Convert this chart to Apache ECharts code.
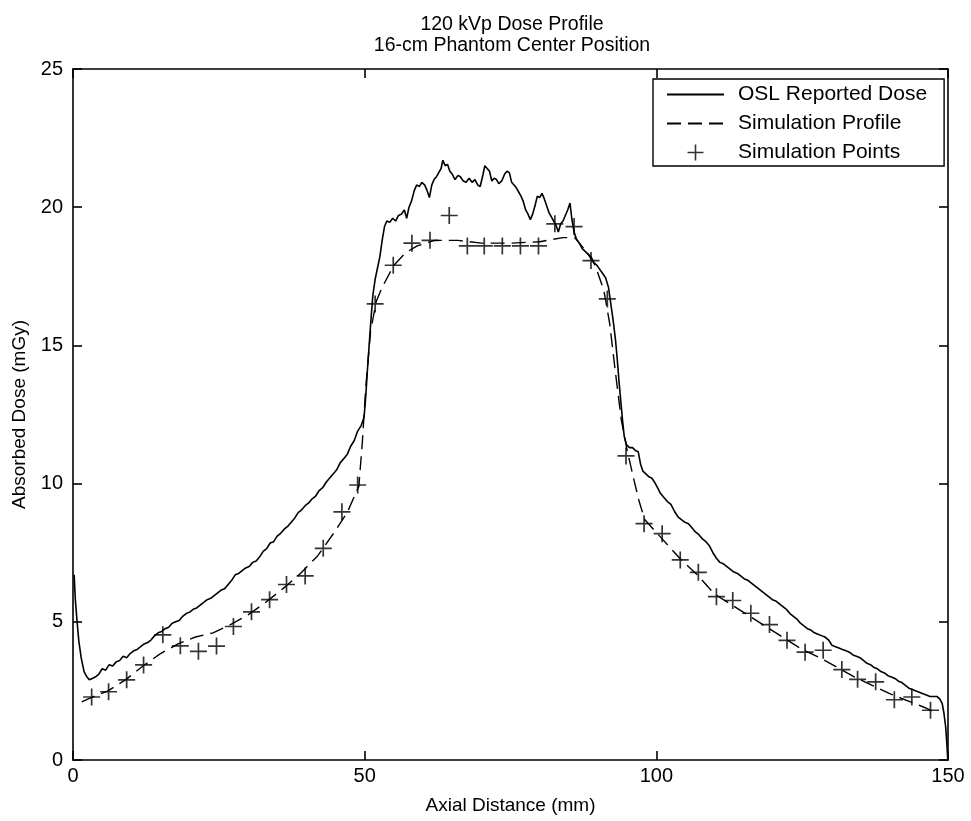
<!DOCTYPE html>
<html>
<head>
<meta charset="utf-8">
<script src="https://cdn.jsdelivr.net/npm/echarts@6/dist/echarts.min.js"></script>
<style>
    html, body { margin: 0; padding: 0; background: #fff; }
    #dose-chart { width: 971px; height: 821px; }
</style>
</head>
<body>
<div id="dose-chart"></div>
<script>
    // OSL measured dose along the phantom (mm, mGy)
    var oslDistance = [0.2, 0.4, 0.7, 1.0, 1.4, 1.9, 2.4, 2.8, 3.3, 3.8, 4.4, 5.0, 5.6, 6.2, 6.8, 7.4, 8.0, 8.6, 9.2, 9.8,
        10.4, 11.0, 11.6, 12.2, 12.8, 13.4, 14.0, 14.6, 15.2, 15.8, 16.4, 17.0, 17.6, 18.2, 18.8, 19.4, 20.0, 20.6, 21.2, 21.8,
        22.4, 23.0, 23.6, 24.2, 24.8, 25.4, 26.0, 26.6, 27.2, 27.8, 28.4, 29.0, 29.6, 30.2, 30.8, 31.4, 32.0, 32.6, 33.2, 33.8,
        34.4, 35.0, 35.6, 36.2, 36.8, 37.4, 38.0, 38.6, 39.2, 39.8, 40.4, 41.0, 41.6, 42.2, 42.8, 43.4, 44.0, 44.6, 45.2, 45.8,
        46.4, 47.0, 47.6, 48.2, 48.8, 49.4, 49.9, 50.2, 50.5, 50.8, 51.1, 51.4, 51.8, 52.2, 52.6, 53.0, 53.4, 53.8, 54.3, 54.8,
        55.3, 55.8, 56.3, 56.8, 57.2, 57.6, 58.0, 58.5, 58.9, 59.4, 59.8, 60.3, 60.7, 61.1, 61.5, 61.9, 62.3, 62.7, 63.1, 63.4,
        63.8, 64.2, 64.6, 65.0, 65.5, 66.0, 66.4, 66.9, 67.4, 67.9, 68.4, 68.9, 69.4, 69.8, 70.2, 70.6, 71.0, 71.4, 71.8, 72.2,
        72.6, 73.0, 73.5, 74.0, 74.4, 74.8, 75.2, 75.6, 76.0, 76.4, 76.8, 77.2, 77.6, 78.0, 78.4, 78.8, 79.2, 79.6, 80.0, 80.4,
        80.8, 81.2, 81.6, 82.0, 82.4, 82.8, 83.2, 83.6, 84.0, 84.4, 84.8, 85.2, 85.5, 85.9, 86.3, 86.8, 87.3, 87.8, 88.3, 88.8,
        89.3, 89.8, 90.3, 90.8, 91.3, 91.8, 92.2, 92.6, 93.0, 93.3, 93.6, 93.9, 94.2, 94.5, 94.9, 95.4, 95.9, 96.4, 96.9, 97.3,
        97.7, 98.2, 98.7, 99.2, 99.7, 100.2, 100.7, 101.3, 101.9, 102.5, 103.1, 103.7, 104.3, 104.9, 105.5, 106.1, 106.7, 107.3, 107.9, 108.5,
        109.1, 109.7, 110.3, 110.9, 111.5, 112.1, 112.7, 113.3, 113.9, 114.5, 115.1, 115.7, 116.3, 116.9, 117.5, 118.1, 118.7, 119.3, 119.9, 120.5,
        121.1, 121.7, 122.3, 122.9, 123.5, 124.1, 124.7, 125.3, 125.9, 126.5, 127.1, 127.7, 128.3, 128.9, 129.5, 130.1, 130.7, 131.3, 131.9, 132.5,
        133.1, 133.7, 134.3, 134.9, 135.5, 136.1, 136.7, 137.3, 137.9, 138.5, 139.1, 139.7, 140.3, 140.9, 141.5, 142.1, 142.7, 143.3, 143.9, 144.5,
        145.1, 145.7, 146.3, 146.9, 147.5, 148.1, 148.6, 149.0, 149.3, 149.6, 149.8, 149.95];
    var oslDose = [6.7, 5.8, 5.0, 4.3, 3.7, 3.2, 3.0, 2.9, 2.95, 3.0, 3.1, 3.3, 3.25, 3.45, 3.4, 3.55, 3.6, 3.75, 3.7, 3.85,
        3.95, 4.0, 4.1, 4.2, 4.25, 4.35, 4.5, 4.6, 4.65, 4.75, 4.8, 4.95, 5.0, 5.05, 5.2, 5.3, 5.35, 5.45, 5.5, 5.6,
        5.7, 5.8, 5.85, 5.95, 6.05, 6.15, 6.2, 6.35, 6.5, 6.7, 6.75, 6.85, 6.95, 7.0, 7.15, 7.2, 7.35, 7.55, 7.65, 7.85,
        7.9, 8.1, 8.2, 8.35, 8.45, 8.6, 8.75, 8.95, 9.05, 9.2, 9.3, 9.45, 9.55, 9.75, 9.85, 10.05, 10.2, 10.35, 10.5, 10.75,
        10.9, 11.05, 11.35, 11.55, 11.9, 12.1, 12.4, 13.2, 14.2, 15.1, 16.0, 16.8, 17.4, 17.8, 18.2, 18.8, 19.3, 19.5, 19.45, 19.6,
        19.5, 19.7, 19.75, 19.9, 19.6, 20.0, 20.2, 20.6, 20.8, 20.75, 20.9, 20.8, 20.6, 20.35, 20.8, 21.0, 21.1, 21.25, 21.4, 21.7,
        21.5, 21.55, 21.3, 21.2, 21.0, 21.15, 21.1, 20.95, 20.9, 21.05, 20.9, 21.0, 20.8, 20.75, 21.1, 21.5, 21.4, 21.3, 20.95, 21.05,
        21.0, 20.85, 20.95, 21.2, 21.3, 21.25, 20.9, 20.8, 20.7, 20.55, 20.4, 20.2, 19.9, 19.75, 19.55, 19.75, 20.05, 20.4, 20.35, 20.5,
        20.3, 20.05, 19.8, 19.65, 19.5, 19.35, 19.1, 19.4, 19.5, 19.7, 19.9, 20.15, 19.6, 19.1, 18.85, 18.7, 18.5, 18.4, 18.3, 18.2,
        18.0, 17.9, 17.75, 17.6, 17.45, 17.1, 16.5, 15.9, 15.2, 14.5, 13.7, 13.0, 12.3, 11.7, 11.4, 11.3, 11.3, 11.2, 11.15, 10.7,
        10.45, 10.35, 10.25, 10.2, 10.05, 9.85, 9.65, 9.5, 9.35, 9.25, 9.0, 8.8, 8.7, 8.6, 8.55, 8.4, 8.25, 8.15, 8.0, 7.9,
        7.75, 7.5, 7.3, 7.15, 7.1, 7.0, 6.9, 6.8, 6.75, 6.65, 6.55, 6.5, 6.4, 6.3, 6.2, 6.1, 6.0, 5.9, 5.8, 5.75,
        5.65, 5.55, 5.45, 5.3, 5.2, 5.1, 4.95, 4.85, 4.75, 4.7, 4.6, 4.55, 4.5, 4.45, 4.35, 4.15, 4.1, 4.05, 4.0, 3.95,
        3.9, 3.8, 3.75, 3.7, 3.6, 3.5, 3.45, 3.35, 3.3, 3.2, 3.15, 3.05, 3.0, 2.95, 2.85, 2.8, 2.7, 2.6, 2.55, 2.5,
        2.45, 2.4, 2.35, 2.3, 2.3, 2.3, 2.2, 2.05, 1.7, 1.2, 0.6, 0.05];

    // simulated profile (dashed curve)
    var simDistance = [1.5, 3, 6, 9, 12, 15, 18, 21, 24, 27, 30, 33, 36, 39, 42, 45, 47, 49, 49.6, 50.2,
        51, 52, 53, 55, 57, 59, 62, 66, 70, 75, 80, 84, 86, 88, 89.5, 91, 92, 93, 94, 95,
        96.2, 97, 98, 101, 104, 107, 110, 113, 116, 119, 122, 125, 128, 131, 134, 137, 140, 143, 146, 147.5];
    var simDose = [2.1, 2.25, 2.5, 2.9, 3.4, 3.85, 4.2, 4.45, 4.6, 4.9, 5.25, 5.7, 6.2, 6.75, 7.4, 8.3, 8.95, 9.9, 11.5, 13.5,
        15.5, 16.6, 17.1, 17.9, 18.35, 18.6, 18.8, 18.8, 18.7, 18.7, 18.75, 18.9, 18.9, 18.4, 17.9, 17.0, 15.8, 14.0, 12.3, 11.2,
        10.1, 9.4, 8.7, 8.0, 7.3, 6.7, 6.0, 5.6, 5.2, 4.8, 4.4, 4.0, 3.7, 3.35, 3.0, 2.7, 2.4, 2.15, 1.9, 1.75];

    // simulated sample points (+ markers)
    var pointDistance = [3.2, 6.1, 9.2, 12.1, 15.4, 18.4, 21.5, 24.6, 27.5, 30.6, 33.7, 36.6, 39.8, 42.9, 46.1, 48.8,
        51.8, 54.9, 58.1, 61.2, 64.5, 67.6, 70.5, 73.6, 76.7, 79.8, 82.6, 85.9, 88.8, 91.6,
        94.8, 97.9, 101.0, 104.1, 107.2, 110.3, 113.1, 116.2, 119.4, 122.4, 125.5, 128.6, 131.8, 134.5, 137.6, 140.8, 143.8, 147.0];
    var pointDose = [2.28, 2.47, 2.9, 3.44, 4.53, 4.13, 3.93, 4.12, 4.83, 5.36, 5.8, 6.35, 6.66, 7.66, 8.98, 9.95,
        16.5, 17.9, 18.7, 18.8, 19.7, 18.6, 18.6, 18.6, 18.6, 18.6, 19.4, 19.3, 18.07, 16.68,
        11.0, 8.55, 8.19, 7.24, 6.79, 5.91, 5.77, 5.31, 4.9, 4.33, 3.9, 3.97, 3.27, 2.92, 2.83, 2.18, 2.28, 1.8];

    function zip(xs, ys) {
        return xs.map(function (x, i) { return [x, ys[i]]; });
    }

    var font = 'Liberation Sans, Arial, sans-serif';
    var plusPath = 'path://M-1,-10 L1,-10 L1,-1 L10,-1 L10,1 L1,1 L1,10 L-1,10 L-1,1 L-10,1 L-10,-1 L-1,-1 Z';
    var axisLine = {show: true, onZero: false, lineStyle: {color: '#000', width: 1.6}};
    var axisTick = {show: true, inside: true, length: 9, lineStyle: {color: '#000', width: 1.6}};
    var noDot = {color: 'rgba(0,0,0,0)', borderColor: 'rgba(0,0,0,0)', borderWidth: 0, opacity: 0};

    var myChart = echarts.init(document.getElementById('dose-chart'));
    var option = {
        animation: false,
        backgroundColor: '#fff',
        title: {
            text: '120 kVp Dose Profile\n16-cm Phantom Center Position',
            left: 507,
            top: 9,
            textAlign: 'center',
            textStyle: {fontFamily: font, fontSize: 19.5, fontWeight: 'normal', color: '#000', lineHeight: 21}
        },
        grid: {left: 73, right: 23, top: 69, bottom: 61},
        legend: {
            orient: 'vertical',
            left: 653,
            top: 79,
            padding: [5, 17, 3, 13],
            borderColor: '#000',
            borderWidth: 1.4,
            itemWidth: 57,
            itemHeight: 16,
            itemGap: 8,
            textStyle: {fontFamily: font, fontSize: 21, color: '#000', padding: [0, 0, 0, 9]},
            data: [
                {name: 'OSL Reported Dose', itemStyle: noDot},
                {name: 'Simulation Profile', itemStyle: noDot},
                {name: 'Simulation Points'}
            ]
        },
        xAxis: [{
            type: 'value', min: 0, max: 150, interval: 50, position: 'bottom',
            axisLine: axisLine, axisTick: axisTick, splitLine: {show: false},
            axisLabel: {fontFamily: font, fontSize: 20, color: '#000', margin: 6},
            name: 'Axial Distance (mm)', nameLocation: 'middle', nameGap: 36,
            nameTextStyle: {fontFamily: font, fontSize: 19, color: '#000'}
        }, {
            type: 'value', min: 0, max: 150, interval: 50, position: 'top',
            axisLine: axisLine, axisTick: axisTick, splitLine: {show: false}, axisLabel: {show: false}
        }],
        yAxis: [{
            type: 'value', min: 0, max: 25, interval: 5, position: 'left',
            axisLine: axisLine, axisTick: axisTick, splitLine: {show: false},
            axisLabel: {fontFamily: font, fontSize: 20, color: '#000', margin: 10},
            name: 'Absorbed Dose (mGy)', nameLocation: 'middle', nameGap: 44,
            nameTextStyle: {fontFamily: font, fontSize: 19, color: '#000'}
        }, {
            type: 'value', min: 0, max: 25, interval: 5, position: 'right',
            axisLine: axisLine, axisTick: axisTick, splitLine: {show: false}, axisLabel: {show: false}
        }],
        series: [{
            name: 'OSL Reported Dose',
            type: 'line',
            data: zip(oslDistance, oslDose),
            symbol: 'none',
            lineStyle: {color: '#000', width: 1.6},
            itemStyle: {color: '#000'}
        }, {
            name: 'Simulation Profile',
            type: 'line',
            data: zip(simDistance, simDose),
            symbol: 'none',
            lineStyle: {color: '#000', width: 1.4, type: [14, 7]},
            itemStyle: {color: '#000'}
        }, {
            name: 'Simulation Points',
            type: 'scatter',
            data: zip(pointDistance, pointDose),
            symbol: plusPath,
            symbolSize: 17,
            itemStyle: {color: '#000'}
        }]
    };
    myChart.setOption(option);
</script>
</body>
</html>
